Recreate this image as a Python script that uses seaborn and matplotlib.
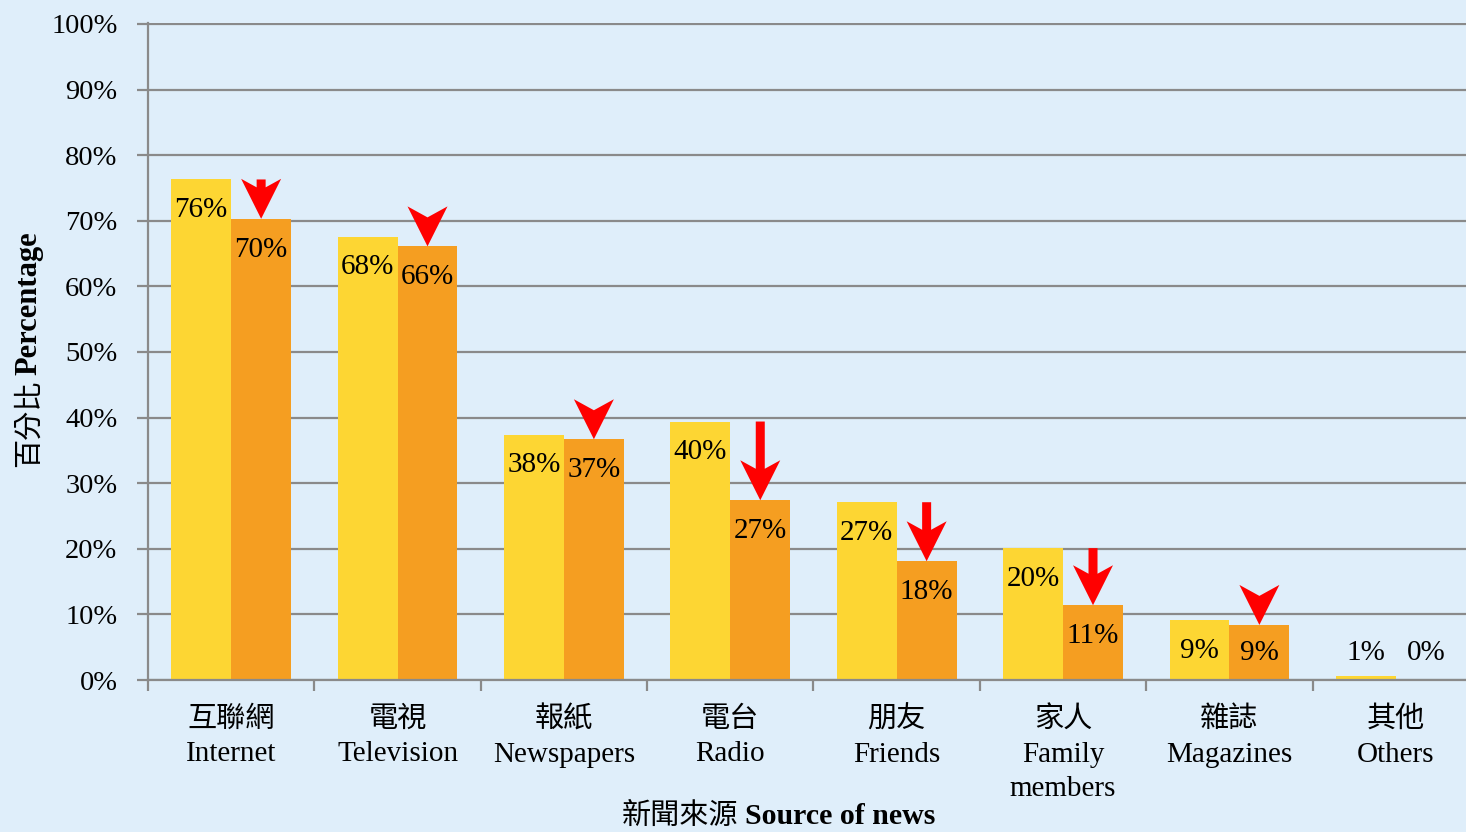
import matplotlib
matplotlib.use('Agg')
import matplotlib.pyplot as plt
import matplotlib.transforms as mtransforms
from matplotlib.patches import Polygon
import seaborn as sns
import pandas as pd

# ---------------- data ----------------
categories_zh = ['互聯網', '電視', '報紙', '電台', '朋友', '家人', '雜誌', '其他']
categories_en = ['Internet', 'Television', 'Newspapers', 'Radio', 'Friends',
                 'Family\nmembers', 'Magazines', 'Others']
series_names = ['Earlier', 'Later']
earlier_values = [76.3, 67.6, 37.4, 39.4, 27.1, 20.1, 9.1, 0.6]
later_values = [70.3, 66.1, 36.7, 27.4, 18.1, 11.4, 8.4, 0.0]
earlier_labels = ['76%', '68%', '38%', '40%', '27%', '20%', '9%', '1%']
later_labels = ['70%', '66%', '37%', '27%', '18%', '11%', '9%', '0%']
show_arrow = [True, True, True, True, True, True, True, False]
ytick_values = [0, 10, 20, 30, 40, 50, 60, 70, 80, 90, 100]
ytick_labels = ['0%', '10%', '20%', '30%', '40%', '50%', '60%', '70%', '80%', '90%', '100%']
xlabel_zh = '新聞來源'
xlabel_en = 'Source of news'
ylabel_zh = '百分比'
ylabel_en = 'Percentage'

# ---------------- style ----------------
BG = '#DFEEFA'
YELLOW = '#FDD633'
ORANGE = '#F59E21'
RED = '#FF0000'
GRID = '#8A8A8A'
SERIF = ['Liberation Serif', 'Noto Sans CJK TC']

plt.rcParams['font.family'] = SERIF

W, H = 1466, 832
fig = plt.figure(figsize=(W / 100, H / 100), dpi=100, facecolor=BG)
# plot area runs slightly past the right edge, as in the reference
ax = fig.add_axes([148 / W, 1 - 680 / H, 1331 / W, (680 - 23) / H])
ax.set_facecolor(BG)

cat_labels = [f'{zh}\n{en}' for zh, en in zip(categories_zh, categories_en)]
df = pd.DataFrame({
    'category': cat_labels * 2,
    'series': [series_names[0]] * len(cat_labels) + [series_names[1]] * len(cat_labels),
    'value': earlier_values + later_values,
})

sns.barplot(data=df, x='category', y='value', hue='series', order=cat_labels,
            hue_order=series_names, palette=[YELLOW, ORANGE], saturation=1,
            width=0.72, dodge=True, ax=ax, legend=False, errorbar=None,
            linewidth=0)

ax.set_xlim(-0.5, len(cat_labels) - 0.5)
ax.set_ylim(0, 100.15)
ax.set_yticks(ytick_values)
ax.set_yticklabels(ytick_labels, fontsize=20.5)
ax.yaxis.grid(True, color=GRID, linewidth=1.6)
ax.set_axisbelow(True)
ax.tick_params(axis='y', length=8, width=1.6, color=GRID, pad=14)
ax.tick_params(axis='x', which='major', length=0, pad=19, labelsize=21)
ax.set_xticks([i - 0.5 for i in range(len(cat_labels) + 1)], minor=True)
ax.tick_params(axis='x', which='minor', length=8, width=1.6, color=GRID)
for lbl in ax.get_xticklabels():
    lbl.set_linespacing(1.42)
ax.set_xlabel('')
ax.set_ylabel('')
for s in ['top', 'right']:
    ax.spines[s].set_visible(False)
for s in ['left', 'bottom']:
    ax.spines[s].set_color(GRID)
    ax.spines[s].set_linewidth(1.6)

# ---------------- value labels ----------------
bars_a = ax.containers[0]
bars_b = ax.containers[1]
for bars, labels in [(bars_a, earlier_labels), (bars_b, later_labels)]:
    for p, t in zip(bars, labels):
        cx = p.get_x() + p.get_width() / 2
        v = p.get_height()
        y = max(v - 4.7, 4.1)
        ax.text(cx, y, t, ha='center', va='center', fontsize=21, color='black')

# ---------------- arrows (pixel-sized heads, anchored to data) ----------------
ident = mtransforms.IdentityTransform()
half_w, head_h, notch, shaft = 20, 40, 11, 4.5
for pa, pb, flag in zip(bars_a, bars_b, show_arrow):
    if not flag:
        continue
    cx = pb.get_x() + pb.get_width() / 2
    tipx, tipy = ax.transData.transform((cx, pb.get_height()))
    _, topy = ax.transData.transform((cx, pa.get_height()))
    neck = tipy + head_h - notch + notch * shaft / half_w
    if topy > neck + 1:
        pts = [(tipx, tipy),
               (tipx + half_w, tipy + head_h),
               (tipx + shaft, neck),
               (tipx + shaft, topy),
               (tipx - shaft, topy),
               (tipx - shaft, neck),
               (tipx - half_w, tipy + head_h)]
    else:
        pts = [(tipx, tipy),
               (tipx + half_w, tipy + head_h),
               (tipx, tipy + head_h - notch),
               (tipx - half_w, tipy + head_h)]
    ax.add_patch(Polygon(pts, closed=True, facecolor=RED, edgecolor='none',
                         transform=ident, clip_on=False, zorder=5))

# ---------------- axis titles ----------------
fig.text(738 / W, 1 - 816 / H, xlabel_zh, ha='right', va='center', fontsize=21,
         family=['Noto Sans CJK TC'])
fig.text(745 / W, 1 - 816 / H, xlabel_en, ha='left', va='center', fontsize=21.5,
         fontweight='bold', family=['Liberation Serif'])
fig.text(29 / W, 1 - 467 / H, ylabel_zh, ha='center', va='bottom', rotation=90,
         fontsize=21, family=['Noto Sans CJK TC'])
fig.text(29 / W, 1 - 375 / H, ylabel_en, ha='center', va='bottom', rotation=90,
         fontsize=22, fontweight='bold', family=['Liberation Serif'])

fig.savefig('out.png', dpi=100, facecolor=BG)
